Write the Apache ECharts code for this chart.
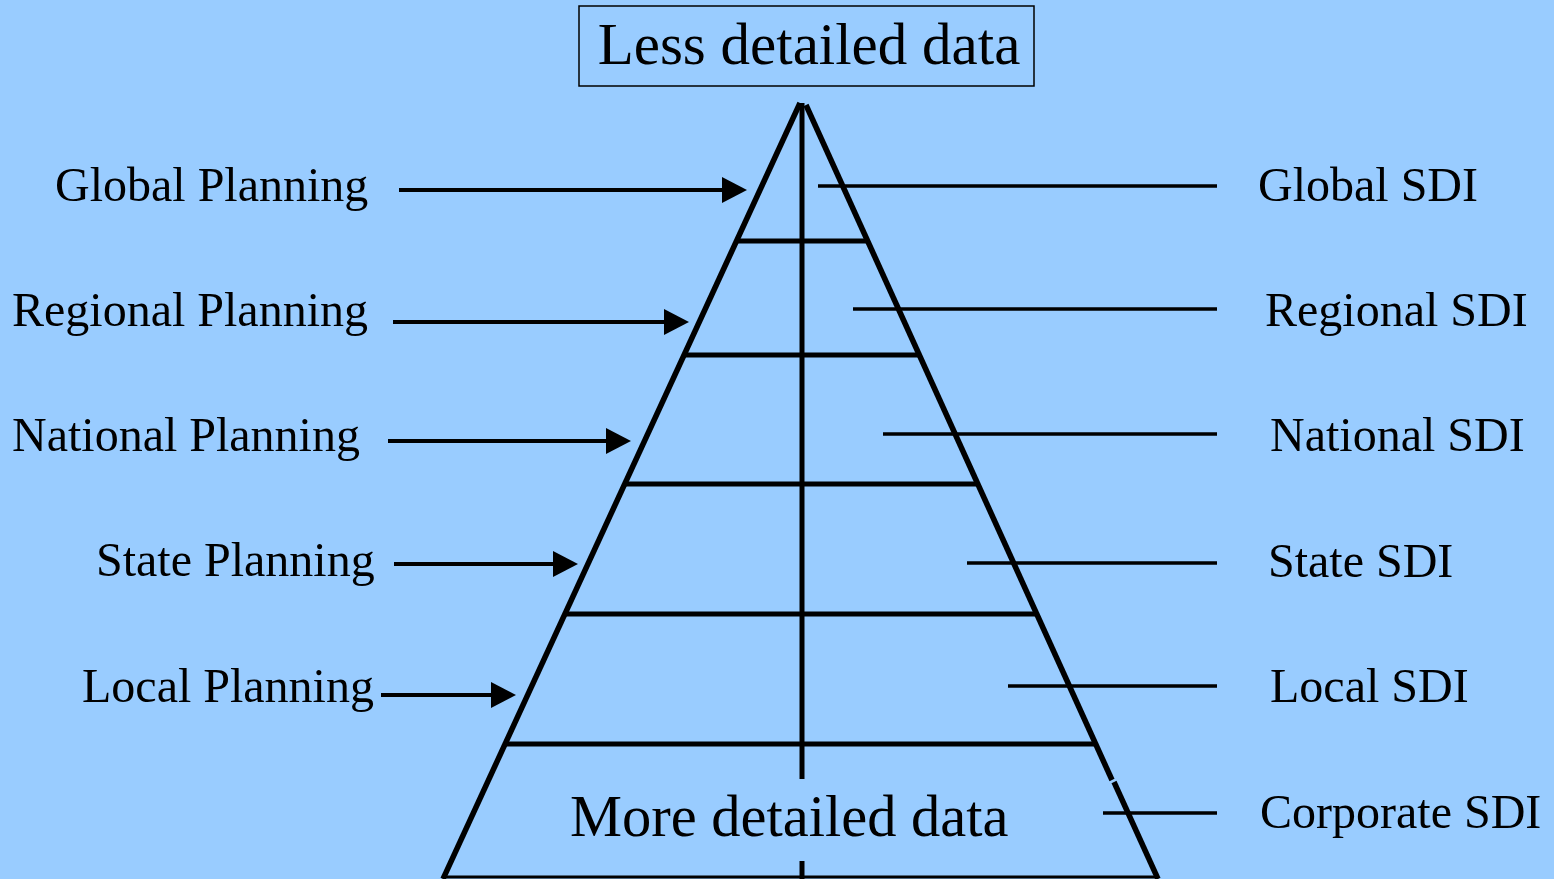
<!DOCTYPE html>
<html>
<head>
<meta charset="utf-8">
<script src="https://cdn.jsdelivr.net/npm/echarts@6/dist/echarts.min.js"></script>
<style>
html,body{margin:0;padding:0;background:#99CCFF;}
#chart{width:1554px;height:879px;}
</style>
</head>
<body>
<div id="chart"></div>
<script>
// ---- data (diagram coordinates, same units as the 1554x879 canvas) ----
const topLabel = 'Less detailed data';
const bottomLabel = 'More detailed data';
const planningLabels = ['Global Planning', 'Regional Planning', 'National Planning', 'State Planning', 'Local Planning'];
const planningLabelX = [55, 12, 12, 96, 82];
const planningLabelY = [188, 313, 438, 563, 689];
const arrowY = [190, 322, 441, 564, 695];
const arrowStartX = [399, 393, 388, 394, 381];
const arrowTipX = [747, 689, 631, 578, 516];
const sdiLabels = ['Global SDI', 'Regional SDI', 'National SDI', 'State SDI', 'Local SDI', 'Corporate SDI'];
const sdiLabelX = [1258, 1265, 1270, 1268, 1270, 1260];
const sdiLabelY = [188, 313, 438, 564, 689, 815];
const sdiLineY = [186, 309, 434, 563, 686, 813];
const sdiLineStartX = [818, 853, 883, 967, 1008, 1103];
const sdiLineEndX = 1217;
const tierBoundaryY = [241, 355, 484, 614, 744];

// pyramid geometry
const apexLeft = [800, 103], baseLeft = [443, 879];
const apexRight = [806, 105], baseRight = [1158, 879];
const centerX = 802;

function edgeX(p0, p1, y) {
  return p0[0] + (p1[0] - p0[0]) * (y - p0[1]) / (p1[1] - p0[1]);
}

const chart = echarts.init(document.getElementById('chart'), null, {renderer: 'canvas'});
const FONT = '"Liberation Serif", "Times New Roman", serif';

function segItem(api, a, b, w) {
  const p = api.coord(a), q = api.coord(b);
  return {type: 'line', shape: {x1: p[0], y1: p[1], x2: q[0], y2: q[1]},
    style: {stroke: '#000', lineWidth: w, lineCap: 'butt'}};
}

const option = {
  backgroundColor: '#99CCFF',
  animation: false,
  grid: {left: 0, right: 0, top: 0, bottom: 0},
  xAxis: {type: 'value', min: 0, max: 1554, show: false},
  yAxis: {type: 'value', min: 0, max: 879, inverse: true, show: false},
  series: [
    { // pyramid outline + center line
      type: 'custom', clip: false, data: [0],
      renderItem: function (params, api) {
        const children = [];
        children.push(segItem(api, apexLeft, baseLeft, 5.5));
        children.push(segItem(api, apexRight, [1112, 780], 5.5));
        children.push(segItem(api, [1114, 782], baseRight, 5.5));
        children.push(segItem(api, [centerX, 103], [centerX, 779], 5));
        children.push(segItem(api, [centerX, 861], [centerX, 879], 5));
        children.push(segItem(api, [edgeX(apexLeft, baseLeft, 877), 877], [edgeX(apexRight, baseRight, 877), 877], 3));
        return {type: 'group', children: children};
      }
    },
    { // tier boundaries
      type: 'custom', clip: false, data: tierBoundaryY,
      renderItem: function (params, api) {
        const y = api.value(0);
        return segItem(api, [edgeX(apexLeft, baseLeft, y), y], [edgeX(apexRight, baseRight, y), y], 5);
      }
    },
    { // planning arrows
      type: 'custom', clip: false,
      data: arrowY.map((y, i) => [arrowStartX[i], y, arrowTipX[i]]),
      renderItem: function (params, api) {
        const x0 = api.value(0), y = api.value(1), tip = api.value(2);
        const a = api.coord([x0, y]), t = api.coord([tip, y]);
        return {type: 'group', children: [
          {type: 'line', shape: {x1: a[0], y1: a[1], x2: t[0] - 20, y2: t[1]},
            style: {stroke: '#000', lineWidth: 4}},
          {type: 'polygon', shape: {points: [[t[0], t[1]], [t[0] - 25, t[1] - 13], [t[0] - 25, t[1] + 13]]},
            style: {fill: '#000'}}
        ]};
      }
    },
    { // SDI lines
      type: 'custom', clip: false,
      data: sdiLineY.map((y, i) => [sdiLineStartX[i], y]),
      renderItem: function (params, api) {
        const x0 = api.value(0), y = api.value(1);
        return segItem(api, [x0, y], [sdiLineEndX, y], 3.5);
      }
    },
    { // planning labels
      type: 'custom', clip: false,
      data: planningLabels.map((t, i) => [planningLabelX[i], planningLabelY[i]]),
      renderItem: function (params, api) {
        const p = api.coord([api.value(0), api.value(1)]);
        return {type: 'text', x: p[0], y: p[1],
          style: {text: planningLabels[params.dataIndex], fontSize: 48, fontFamily: FONT,
            fill: '#000', align: 'left', verticalAlign: 'middle'}};
      }
    },
    { // SDI labels
      type: 'custom', clip: false,
      data: sdiLabels.map((t, i) => [sdiLabelX[i], sdiLabelY[i]]),
      renderItem: function (params, api) {
        const p = api.coord([api.value(0), api.value(1)]);
        return {type: 'text', x: p[0], y: p[1],
          style: {text: sdiLabels[params.dataIndex], fontSize: 48, fontFamily: FONT,
            fill: '#000', align: 'left', verticalAlign: 'middle'}};
      }
    },
    { // top boxed label and bottom label
      type: 'custom', clip: false, data: [0],
      renderItem: function (params, api) {
        const b0 = api.coord([579, 6]), b1 = api.coord([1034, 86]);
        const tc = api.coord([809, 48]);
        const bc = api.coord([570, 821]);
        return {type: 'group', children: [
          {type: 'rect', shape: {x: b0[0], y: b0[1], width: b1[0] - b0[0], height: b1[1] - b0[1]},
            style: {fill: 'none', stroke: '#000', lineWidth: 1.5}},
          {type: 'text', x: tc[0], y: tc[1],
            style: {text: topLabel, fontSize: 59, fontFamily: FONT, fill: '#000', align: 'center', verticalAlign: 'middle'}},
          {type: 'text', x: bc[0], y: bc[1],
            style: {text: bottomLabel, fontSize: 58.5, fontFamily: FONT, fill: '#000', align: 'left', verticalAlign: 'middle'}}
        ]};
      }
    }
  ]
};
chart.setOption(option);
</script>
</body>
</html>
